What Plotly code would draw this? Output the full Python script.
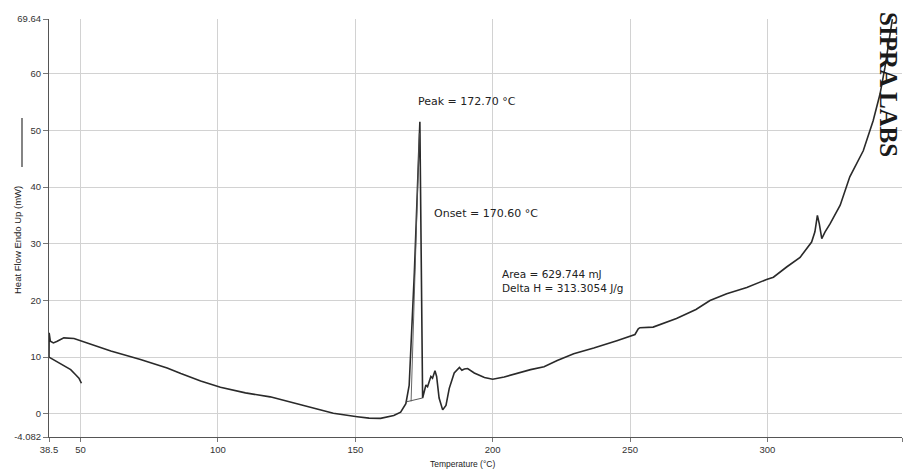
import plotly.graph_objects as go

# Main DSC trace (temperature in degC, heat flow in mW)
temp_main = [38.5, 38.55, 39.0, 40.1, 41.5, 43.9, 47.6, 52.4, 61, 71.8, 81.5, 86.5, 93.7,
             100.9, 110, 119, 127, 134.8, 142, 150.7, 155, 159.2, 164, 166.5, 168.4, 169.6,
             170.2, 171.5, 173.5, 174.0, 174.5, 175.7, 176.3, 177.5, 178.1, 179.0, 179.6,
             180.5, 181.8, 183.0, 184.2, 186.0, 187.9, 188.8, 189.7, 190.9, 193.3, 197, 200,
             204.2, 209, 213.8, 218.7, 223.5, 229.5, 236.8, 245.2, 251.8, 253, 253.6, 258.4,
             266.9, 274, 279.1, 285.2, 292.5, 299.7, 302.2, 307, 311.9, 316.1, 317.3, 318.2,
             318.9, 319.8, 321, 322.8, 326.5, 330, 334.9, 338.5, 341, 342.8, 344.2, 345.5]
flow_main = [10.0, 14.3, 12.8, 12.5, 12.8, 13.4, 13.3, 12.5, 11.1, 9.6, 8.1, 7.1, 5.8,
             4.7, 3.7, 3.0, 2.0, 0.9, 0.1, -0.5, -0.75, -0.8, -0.3, 0.3, 1.8, 5.0,
             10.5, 25.0, 51.5, 25.0, 2.8, 5.1, 4.8, 6.6, 6.3, 7.6, 6.6,
             2.8, 0.7, 1.5, 4.5, 7.2, 8.2, 7.7, 7.9, 8.0, 7.2, 6.4, 6.1,
             6.5, 7.2, 7.8, 8.3, 9.4, 10.6, 11.6, 12.9, 14.0, 15.0, 15.2, 15.3,
             16.8, 18.4, 20.0, 21.2, 22.3, 23.7, 24.1, 25.9, 27.6, 30.3, 32.1, 35.0,
             33.5, 30.9, 32.1, 33.5, 36.8, 41.8, 46.4, 51.7, 56.4, 61.1, 65.5, 69.6]

# Initial segment trace
temp_init = [38.5, 40.9, 43.9, 46.4, 48.2, 49.4, 50.3]
flow_init = [10.0, 9.3, 8.5, 7.8, 6.9, 6.3, 5.4]

# Peak integration baseline and onset tangent
temp_base = [168.4, 174.5]
flow_base = [2.1, 2.8]
temp_tan = [170.3, 173.3]
flow_tan = [2.2, 49.5]

x_ticks = [38.5, 50, 100, 150, 200, 250, 300, 349]
x_ticktext = ["38.5", "50", "100", "150", "200", "250", "300", "349"]
y_ticks = [-4.082, 0, 10, 20, 30, 40, 50, 60, 69.64]
y_ticktext = ["-4.082", "0", "10", "20", "30", "40", "50", "60", "69.64"]

fig = go.Figure()
fig.add_trace(go.Scatter(x=temp_init, y=flow_init, mode="lines",
                         line=dict(color="#2a2a2a", width=1.6), showlegend=False))
fig.add_trace(go.Scatter(x=temp_main, y=flow_main, mode="lines",
                         line=dict(color="#2a2a2a", width=1.6), showlegend=False))
fig.add_trace(go.Scatter(x=temp_base, y=flow_base, mode="lines",
                         line=dict(color="#444444", width=0.9), showlegend=False))
fig.add_trace(go.Scatter(x=temp_tan, y=flow_tan, mode="lines",
                         line=dict(color="#555555", width=0.9), showlegend=False))

font = dict(family="DejaVu Sans, Verdana, sans-serif", color="#222222")
sfont = dict(family="Liberation Sans, Arial, sans-serif", color="#222222")

# plot area in pixels: x 49..902, y 19..437
def px(x):
    return (x - 49) / 853.0

def py(y):
    return (437 - y) / 418.0

fig.update_layout(
    width=909, height=472,
    margin=dict(l=49, r=7, t=19, b=35),
    paper_bgcolor="white", plot_bgcolor="white",
    font=dict(family="Liberation Sans, Arial, sans-serif", size=9.5, color="#333333"),
    xaxis=dict(range=[38.5, 349], tickvals=x_ticks, ticktext=x_ticktext,
               showgrid=True, gridcolor="#d2d2d2", gridwidth=1,
               showline=True, linecolor="#555555", linewidth=1,
               ticks="outside", ticklen=4, tickcolor="#777777",
               zeroline=False, tickfont=dict(size=9.5)),
    yaxis=dict(range=[-4.082, 69.64], tickvals=y_ticks, ticktext=y_ticktext,
               showgrid=True, gridcolor="#d2d2d2", gridwidth=1,
               showline=True, linecolor="#555555", linewidth=1,
               ticks="outside", ticklen=5, tickcolor="#777777",
               zeroline=False, tickfont=dict(size=9.5)),
    annotations=[
        dict(text="Peak = 172.70 °C", x=190.5, y=55.1, xref="x", yref="y",
             xanchor="center", yanchor="middle",
             showarrow=False, font=dict(size=11, **font)),
        dict(text="Onset = 170.60 °C", x=177.9, y=35.3, xref="x", yref="y",
             xanchor="left", yanchor="middle", showarrow=False, font=dict(size=11, **font)),
        dict(text="Area = 629.744 mJ<br>Delta H = 313.3054 J/g", x=202.8, y=23.5,
             xref="x", yref="y", xanchor="left", yanchor="middle", align="left",
             showarrow=False, font=dict(size=10.5, **font)),
        dict(text="Temperature (°C)", x=px(462), y=py(464), xref="paper",
             yref="paper", xanchor="center", yanchor="middle",
             showarrow=False, font=dict(size=8.5, **sfont)),
        dict(text="Heat Flow Endo Up (mW)", x=px(18), y=py(240), xref="paper",
             yref="paper", xanchor="center", yanchor="middle", textangle=-90,
             showarrow=False, font=dict(size=9.5, **sfont)),
        dict(text="<b>SIPRA LABS</b>", x=px(888), y=py(84), xref="paper",
             yref="paper", xanchor="center", yanchor="middle", textangle=90,
             showarrow=False,
             font=dict(size=25, family="Liberation Serif, Times New Roman, serif",
                       color="#1a1a1a")),
    ],
    shapes=[
        dict(type="line", xref="paper", yref="paper", x0=px(22), x1=px(22),
             y0=py(118), y1=py(167), line=dict(color="#333333", width=1.2)),
    ],
)

fig.write_html("out.html")
